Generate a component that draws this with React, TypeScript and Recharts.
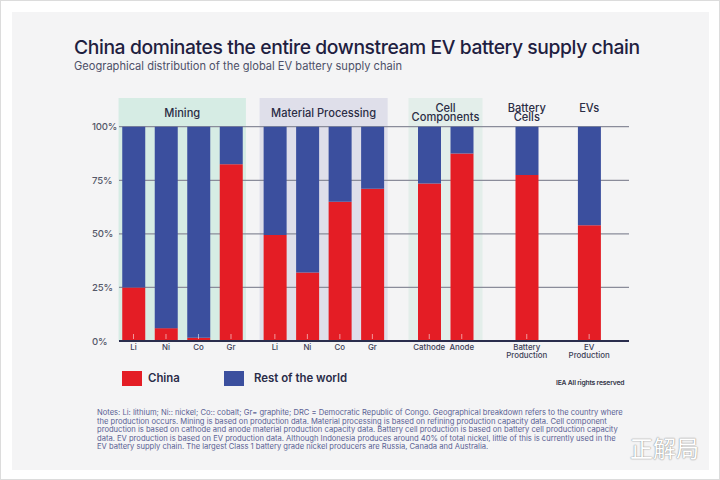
import { BarChart, Bar, XAxis, YAxis, CartesianGrid, ReferenceArea } from "recharts";

// ---- data ----
const categories = ["Li", "Ni", "Co", "Gr", "Li", "Ni", "Co", "Gr", "Cathode", "Anode", "Battery\nProduction", "EV\nProduction"];
const categoryGroup = [0, 0, 0, 0, 1, 1, 1, 1, 2, 2, 3, 4];
const chinaShare = [25, 6, 1.5, 82.5, 49.5, 32, 65, 71, 73.5, 87.5, 77.5, 54];
const restOfWorldShare = [75, 94, 98.5, 17.5, 50.5, 68, 35, 29, 26.5, 12.5, 22.5, 46];
const groupNames = ["Mining", "Material Processing", "Cell\nComponents", "Battery\nCells", "EVs"];
const yTicks = [0, 25, 50, 75, 100];

// ---- layout / style ----
const RED = "#e41d25";
const BLUE = "#3b4f9e";
const GROUP_GAP = [0, 0.35, 0.75, 1.0, 0.92]; // extra slot spacing before each group
const GROUP_PAD = [0.46, 0.47, 0.64, 0.5, 0.5];
const GROUP_FILL = ["#d6ece4", "#dfdfea", "#e3eeea", "none", "none"];
const X_DOMAIN: [number, number] = [-0.446, 15.246];
const Y_TOP = 113.4;
const FONT = "Inter, 'Noto Sans', sans-serif";

let shift = 0;
const rows = categories.map((name, i) => {
  const g = categoryGroup[i];
  if (i === 0 || categoryGroup[i - 1] !== g) shift += GROUP_GAP[g];
  return { name, pos: i + shift, china: chinaShare[i], rest: restOfWorldShare[i] };
});

const groupSpans = groupNames.map((name, g) => {
  const members = rows.filter((_, i) => categoryGroup[i] === g);
  return {
    name,
    x1: members[0].pos - GROUP_PAD[g],
    x2: members[members.length - 1].pos + GROUP_PAD[g],
    fill: GROUP_FILL[g],
  };
});

function XTick({ x, y, payload }: any) {
  const row = rows.find((r) => Math.abs(r.pos - payload.value) < 1e-6);
  const lines = row ? row.name.split("\n") : [];
  return (
    <g>
      <line x1={x} x2={x} y1={y - 7} y2={y - 2} stroke="#ffffff" strokeOpacity={0.55} strokeWidth={1} />
      {lines.map((l: string, i: number) => (
        <text
          key={i}
          x={x}
          y={y + 8.8 + i * 8}
          textAnchor="middle"
          fontSize={7.9}
          fontFamily={FONT}
          fontWeight={500}
          fill="#3b3e55"
        >
          {l}
        </text>
      ))}
    </g>
  );
}

function YTick({ x, y, payload }: any) {
  return (
    <text
      x={x - 27}
      y={y + 3.5}
      textAnchor="start"
      fontSize={9.6}
      letterSpacing={-0.2}
      fontFamily={FONT}
      fontWeight={500}
      fill="#555869"
    >
      {`${payload.value}%`}
    </text>
  );
}

function HeaderLabel({ viewBox, text, shaded }: any) {
  const lines = text.split("\n");
  const cx = viewBox.x + viewBox.width / 2;
  const top = viewBox.y;
  const y0 = lines.length === 1 && shaded ? top + 19.2 : top + 13.8;
  return (
    <g>
      {lines.map((l: string, i: number) => (
        <text
          key={i}
          x={cx}
          y={y0 + i * 9}
          textAnchor="middle"
          fontSize={11.1}
          fontFamily={FONT}
          fontWeight={500}
          fill="#2b2d45"
        >
          {l}
        </text>
      ))}
    </g>
  );
}

const notes = [
  "Notes: Li: lithium; Ni:: nickel; Co:: cobalt; Gr= graphite; DRC = Democratic Republic of Congo. Geographical breakdown refers to the country where",
  "the production occurs. Mining is based on production data. Material processing is based on refining production capacity data. Cell component",
  "production is based on cathode and anode material production capacity data. Battery cell production is based on battery cell production capacity",
  "data. EV production is based on EV production data. Although Indonesia produces around 40% of total nickel, little of this is currently used in the",
  "EV battery supply chain. The largest Class 1 battery grade nickel producers are Russia, Canada and Australia.",
];

export default function App() {
  return (
    <div
      style={{
        position: "absolute",
        left: 0,
        top: 0,
        width: 720,
        height: 480,
        boxSizing: "border-box",
        border: "1px solid #dcdcdc",
        background: "#ffffff",
        fontFamily: FONT,
        overflow: "hidden",
      }}
    >
      <div style={{ position: "absolute", left: 11, top: 11, width: 697, height: 458, background: "#f4f4f5" }} />
      <div
        style={{
          position: "absolute",
          left: 73,
          top: 34,
          fontSize: 19.3,
          fontWeight: 500,
          color: "#1e2040",
          letterSpacing: -0.4,
          whiteSpace: "nowrap",
        }}
      >
        China dominates the entire downstream EV battery supply chain
      </div>
      <div
        style={{
          position: "absolute",
          left: 73,
          top: 58,
          fontSize: 11.1,
          color: "#4d5068",
          whiteSpace: "nowrap",
        }}
      >
        Geographical distribution of the global EV battery supply chain
      </div>

      <div style={{ position: "absolute", left: -1, top: -1 }}>
        <BarChart width={720} height={370} data={rows} margin={{ top: 98, right: 91, left: 79, bottom: 1 }}>
          {groupSpans.map((s, g) => (
            <ReferenceArea
              key={g}
              x1={s.x1}
              x2={s.x2}
              y1={0}
              y2={Y_TOP}
              fill={s.fill}
              fillOpacity={1}
              stroke="none"
              ifOverflow="visible"
              zIndex={-200}
              label={<HeaderLabel text={s.name} shaded={s.fill !== "none"} />}
            />
          ))}
          <CartesianGrid vertical={false} horizontalValues={yTicks} stroke="#8a8c9a" strokeWidth={1.2} />
          <YAxis
            type="number"
            domain={[0, Y_TOP]}
            ticks={yTicks}
            width={40}
            axisLine={false}
            tickLine={false}
            tickSize={0}
            tickMargin={0}
            tick={<YTick />}
            allowDataOverflow
          />
          <Bar dataKey="china" stackId="s" fill={RED} barSize={23} isAnimationActive={false} />
          <Bar dataKey="rest" stackId="s" fill={BLUE} barSize={23} isAnimationActive={false} />
          <XAxis
            type="number"
            dataKey="pos"
            domain={X_DOMAIN}
            ticks={rows.map((r) => r.pos)}
            interval={0}
            height={28}
            tickSize={0}
            tickMargin={0}
            axisLine={{ stroke: "#2a2d4d", strokeWidth: 2 }}
            tickLine={false}
            tick={<XTick />}
            allowDataOverflow
          />
        </BarChart>
      </div>

      <div style={{ position: "absolute", left: 121, top: 370, width: 20, height: 15, background: RED }} />
      <div
        style={{ position: "absolute", left: 147, top: 370, fontSize: 11.4, lineHeight: "15px", fontWeight: 600, color: "#2a2c48" }}
      >
        China
      </div>
      <div style={{ position: "absolute", left: 223, top: 370, width: 20, height: 15, background: BLUE }} />
      <div
        style={{
          position: "absolute",
          left: 253,
          top: 370,
          fontSize: 11.4,
          lineHeight: "15px",
          fontWeight: 600,
          color: "#2a2c48",
          whiteSpace: "nowrap",
        }}
      >
        Rest of the world
      </div>
      <div
        style={{
          position: "absolute",
          left: 555,
          top: 378,
          fontSize: 6.8,
          lineHeight: "8px",
          fontWeight: 600,
          color: "#333547",
          whiteSpace: "nowrap",
          letterSpacing: -0.2,
        }}
      >
        IEA All rights reserved
      </div>

      <div style={{ position: "absolute", left: 96, top: 408, fontSize: 7.6, lineHeight: "8.5px", color: "#5a6194" }}>
        {notes.map((n, i) => (
          <div key={i} style={{ whiteSpace: "nowrap" }}>
            {n}
          </div>
        ))}
      </div>

      <div
        style={{
          position: "absolute",
          left: 629,
          top: 435,
          fontSize: 23,
          lineHeight: "23px",
          fontFamily: "'Noto Sans CJK SC', sans-serif",
          color: "#ffffff",
          textShadow: "0 0 1.5px #8a8a8a, 0 0 1px #9a9a9a",
          whiteSpace: "nowrap",
        }}
      >
        正解局
      </div>
    </div>
  );
}
